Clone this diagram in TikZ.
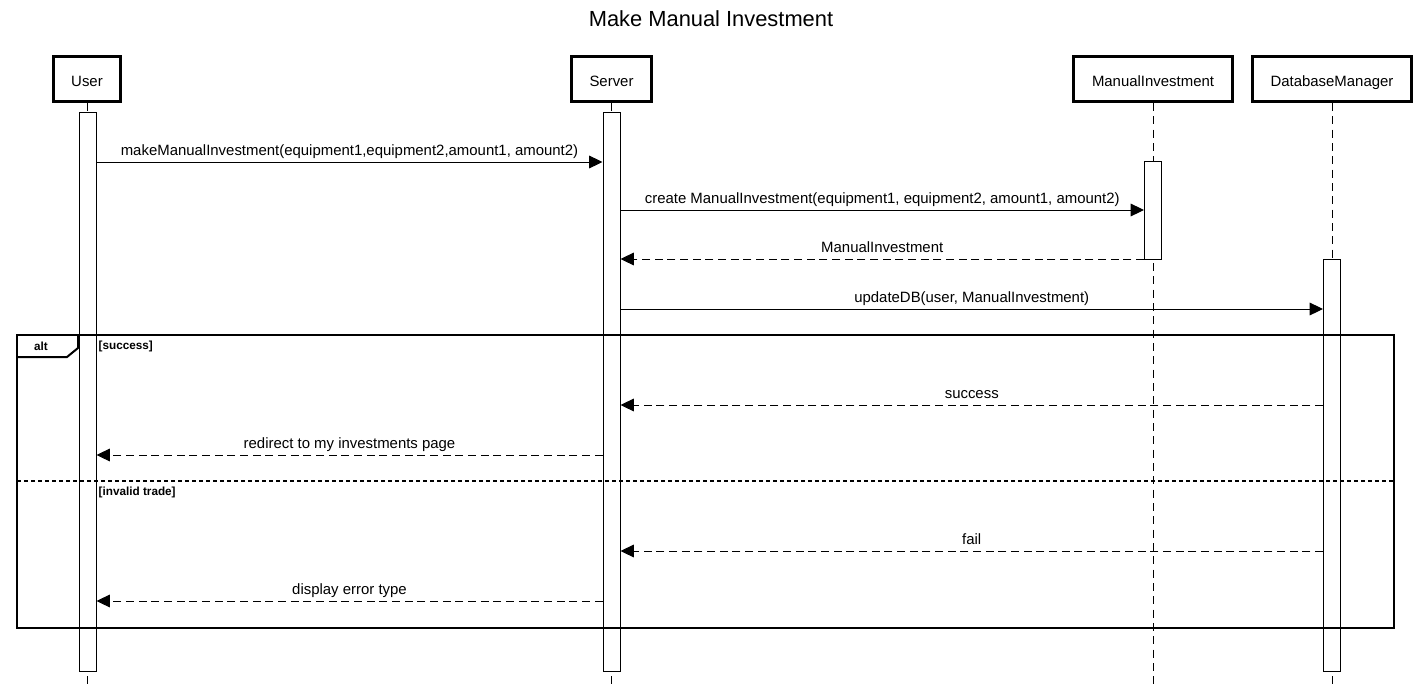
\documentclass[tikz,border=0pt]{standalone}
\usepackage{fontspec}
\setmainfont{Liberation Sans}
\usetikzlibrary{arrows.meta}

\begin{document}
\begin{tikzpicture}[x=0.75pt, y=-0.75pt,
    every node/.style={font=\fontsize{11.2}{13}\selectfont},
    participant/.style={draw, line width=2.25pt, minimum width=#1, minimum height=33.75pt, inner sep=0pt, text height=11.4pt, text depth=0pt},
    activation/.style={draw, fill=white, line width=0.75pt, minimum width=12.75pt, minimum height=#1, inner sep=0pt},
    lifeline/.style={line width=0.75pt, dash pattern=on 6pt off 4pt},
    call/.style={line width=0.75pt, -{Triangle[length=10pt, width=9.5pt]}},
    reply/.style={call, dash pattern=on 6pt off 3.5pt},
    msg/.style={above=1.2pt, text depth=0pt},
    guard/.style={font=\bfseries\fontsize{8.8}{10}\selectfont}]
    \useasboundingbox (0,0) rectangle (1421,689);
    \node[font=\fontsize{16.4}{20}\selectfont] (title) at (711,19) {Make Manual Investment};
    \node[participant=50.25pt] (user) at (87,79) {User};
    \node[participant=60pt] (server) at (611.5,79) {Server};
    \node[participant=119.25pt] (mi) at (1153,79) {ManualInvestment};
    \node[participant=119.25pt] (db) at (1332,79) {DatabaseManager};
    \coordinate (bottom) at (0,689);
    \foreach \p in {user, server, mi, db}
        \draw[lifeline] (\p) -- (\p |- bottom);
    \node[activation=419.25pt] (userbar) at (87.5,391.5) {};
    \node[activation=419.25pt] (serverbar) at (611.5,391.5) {};
    \node[activation=73.5pt] (mibar) at (1153,210) {};
    \node[activation=309pt] (dbbar) at (1332,465) {};
    \foreach \n/\y in {1/162, 2/210, 3/259, 4/309, 5/405, 6/455, 7/551, 8/601, s/481}
        \coordinate (r\n) at (0,\y);
    \draw[call] (userbar.east |- r1) -- node[msg] {makeManualInvestment(equipment1,equipment2,amount1, amount2)} (serverbar.west |- r1);
    \draw[call] (serverbar.east |- r2) -- node[msg] {create ManualInvestment(equipment1, equipment2, amount1, amount2)} (mibar.west |- r2);
    \draw[reply] (mibar.west |- r3) -- node[msg] {ManualInvestment} (serverbar.east |- r3);
    \draw[call] (serverbar.east |- r4) -- node[msg] {updateDB(user, ManualInvestment)} (dbbar.west |- r4);
    \draw[reply] (dbbar.west |- r5) -- node[msg] {success} (serverbar.east |- r5);
    \draw[reply] (serverbar.west |- r6) -- node[msg] {redirect to my investments page} (userbar.east |- r6);
    \draw[reply] (dbbar.west |- r7) -- node[msg] {fail} (serverbar.east |- r7);
    \draw[reply] (serverbar.west |- r8) -- node[msg] {display error type} (userbar.east |- r8);
    \coordinate (altnw) at (17,335);
    \coordinate (altse) at (1394,628);
    \draw[line width=1.5pt] (altnw) rectangle (altse);
    \draw[line width=1.5pt] (altnw) ++(0,22) -- ++(50,0) -- ++(11,-9) -- ++(0,-13);
    \node[guard] (alttag) at (41,346) {alt};
    \node[guard, anchor=west] (success) at (94,346) {[success]};
    \draw[line width=1.5pt, dash pattern=on 3pt off 2.25pt] (altnw |- rs) -- (altse |- rs);
    \node[guard, anchor=west] (invalid) at (94,492) {[invalid trade]};
\end{tikzpicture}
\end{document}
